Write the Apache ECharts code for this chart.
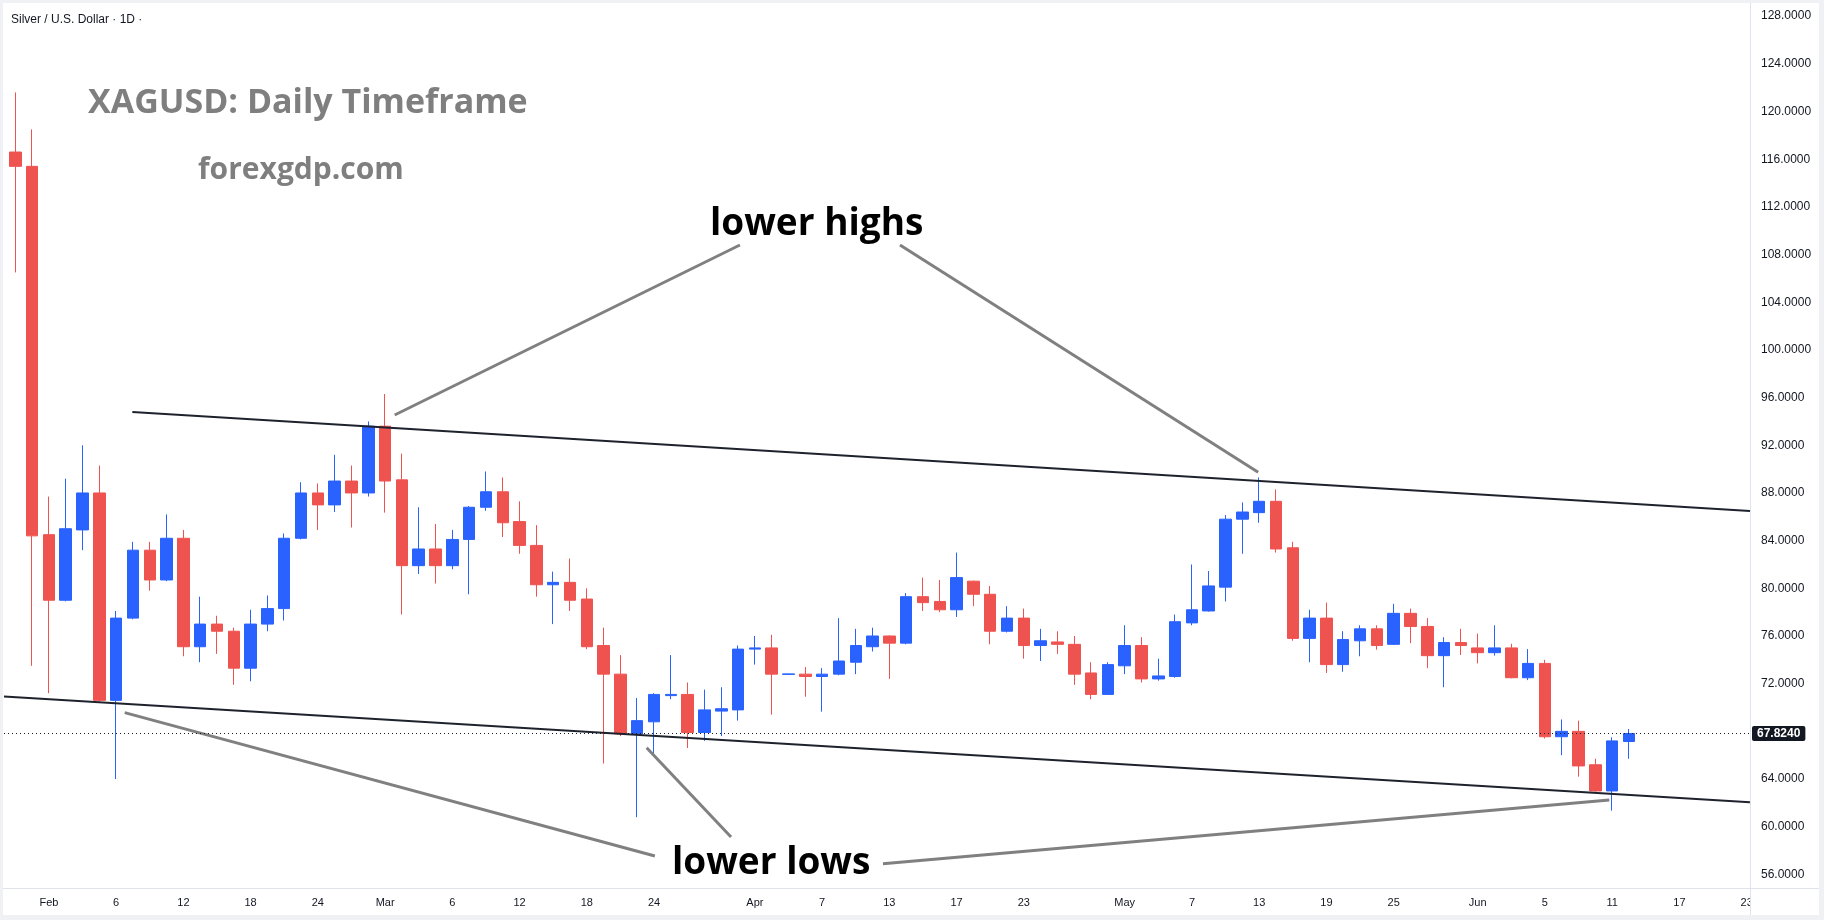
<!DOCTYPE html>
<html>
<head>
<meta charset="utf-8">
<script src="https://cdn.jsdelivr.net/npm/echarts@6/dist/echarts.min.js"></script>
<style>
html,body{margin:0;padding:0;background:#ffffff;}
#chart{width:1824px;height:920px;}
</style>
</head>
<body>
<div id="chart"></div>
<script>
// ---- categories (trading days) ----
const dates = [
 '2026-01-29','2026-01-30',
 '2026-02-02','2026-02-03','2026-02-04','2026-02-05','2026-02-06','2026-02-09','2026-02-10','2026-02-11','2026-02-12','2026-02-13',
 '2026-02-16','2026-02-17','2026-02-18','2026-02-19','2026-02-20','2026-02-23','2026-02-24','2026-02-25','2026-02-26','2026-02-27',
 '2026-03-02','2026-03-03','2026-03-04','2026-03-05','2026-03-06','2026-03-09','2026-03-10','2026-03-11','2026-03-12','2026-03-13',
 '2026-03-16','2026-03-17','2026-03-18','2026-03-19','2026-03-20','2026-03-23','2026-03-24','2026-03-25','2026-03-26','2026-03-27',
 '2026-03-30','2026-03-31',
 '2026-04-01','2026-04-02','2026-04-03','2026-04-06','2026-04-07','2026-04-08','2026-04-09','2026-04-10','2026-04-13','2026-04-14',
 '2026-04-15','2026-04-16','2026-04-17','2026-04-20','2026-04-21','2026-04-22','2026-04-23','2026-04-24','2026-04-27','2026-04-28',
 '2026-04-29','2026-04-30',
 '2026-05-01','2026-05-04','2026-05-05','2026-05-06','2026-05-07','2026-05-08','2026-05-11','2026-05-12','2026-05-13','2026-05-14',
 '2026-05-15','2026-05-18','2026-05-19','2026-05-20','2026-05-21','2026-05-22','2026-05-25','2026-05-26','2026-05-27','2026-05-28',
 '2026-05-29',
 '2026-06-01','2026-06-02','2026-06-03','2026-06-04','2026-06-05','2026-06-08','2026-06-09','2026-06-10','2026-06-11','2026-06-12'
];
const futureDates = ['2026-06-15','2026-06-16','2026-06-17','2026-06-18','2026-06-19','2026-06-22','2026-06-23'];

// ---- OHLC values ----
const open = [116.6,115.4,84.5,79.0,84.9,88.0,70.6,77.5,83.2,80.7,84.2,75.1,77.0,76.4,73.3,77.0,78.3,84.2,88.0,87.0,89.0,88.0,
 93.6,89.1,81.9,83.3,81.9,84.1,86.8,88.1,85.6,83.6,80.3,80.5,79.1,75.2,72.8,67.8,68.8,71.0,71.1,67.9,69.7,69.8,
 74.9,75.0,72.78,72.8,72.6,72.8,73.8,75.1,76.0,75.4,79.3,78.9,78.2,80.6,79.5,76.4,77.5,75.2,75.5,75.3,72.9,71.1,
 73.5,75.2,72.4,72.6,77.1,78.1,80.1,85.8,86.35,87.3,83.4,75.8,77.5,73.6,75.6,76.6,75.3,77.9,76.8,74.35,75.45,
 75.0,74.6,75.0,72.5,73.7,67.55,68.0,65.2,63.0,67.15];
const close = [115.4,84.4,79.0,85.0,88.0,70.6,77.5,83.2,80.7,84.2,75.1,77.0,76.4,73.3,77.0,78.3,84.2,88.0,87.0,89.0,88.0,93.6,
 89.0,81.9,83.3,81.9,84.1,86.8,88.1,85.5,83.6,80.3,80.5,79.0,75.1,72.8,67.8,68.9,71.1,71.1,67.9,69.8,69.9,74.9,
 75.0,72.8,72.82,72.6,72.8,73.9,75.2,76.0,75.4,79.3,78.8,78.2,80.9,79.5,76.4,77.5,75.2,75.6,75.3,72.8,71.1,73.6,
 75.2,72.4,72.65,77.2,78.2,80.2,85.8,86.4,87.3,83.3,75.8,77.5,73.6,75.7,76.6,75.2,77.9,76.8,74.35,75.45,75.2,
 74.6,75.0,72.5,73.7,67.55,68.0,65.1,63.0,67.2,67.824];
const low = [106.5,73.5,71.2,78.9,83.2,70.4,64.0,77.4,79.8,80.6,74.3,73.8,74.5,71.9,72.2,76.4,77.3,84.1,84.9,86.4,85.1,87.7,
 86.35,77.8,81.2,80.4,81.6,79.5,86.5,84.3,82.9,79.3,77.0,78.1,74.9,65.3,67.6,60.8,66.0,70.7,66.6,67.2,67.6,68.9,
 73.6,69.4,72.75,70.9,69.65,72.7,72.8,74.7,72.4,75.3,78.1,78.0,77.6,78.5,75.3,76.3,74.1,73.9,74.5,71.9,70.7,71.05,
 72.8,72.1,72.25,72.5,76.9,78.05,78.9,82.9,85.5,83.0,75.6,73.8,72.9,73.0,74.3,74.85,75.25,75.4,73.3,71.7,74.4,
 73.7,74.35,72.45,72.3,67.4,66.0,64.2,62.95,61.35,65.7];
const high = [121.6,118.5,87.7,89.2,92.0,90.3,78.1,83.9,83.9,86.2,84.9,79.3,77.7,76.7,78.2,79.4,84.6,88.9,88.8,91.2,90.3,94.0,
 96.3,91.3,86.8,85.4,84.9,86.9,89.8,89.3,87.3,85.3,81.4,82.5,80.0,76.7,74.4,70.8,71.2,74.4,72.1,71.5,71.7,75.2,
 76.0,76.1,72.85,73.4,73.3,77.5,76.6,76.7,76.05,79.6,80.9,80.7,83.0,80.65,80.2,78.5,78.3,76.6,76.4,76.0,73.8,73.8,
 76.9,75.9,74.1,77.8,82.0,81.45,86.15,87.2,89.3,88.3,83.9,78.2,78.8,76.4,76.9,76.9,78.7,78.3,77.5,75.9,76.6,
 76.2,76.9,75.35,74.9,74.0,69.0,68.9,65.7,67.5,68.2];
const lastPrice = 67.824;

// ---- tick labels (68 is hidden behind the last-price tag in the reference) ----
const yTicks = [56,60,64,72,76,80,84,88,92,96,100,104,108,112,116,120,124,128];
const xTickDates = ['2026-02-02','2026-02-06','2026-02-12','2026-02-18','2026-02-24','2026-03-02','2026-03-06','2026-03-12',
 '2026-03-18','2026-03-24','2026-04-01','2026-04-07','2026-04-13','2026-04-17','2026-04-23','2026-05-01','2026-05-07',
 '2026-05-13','2026-05-19','2026-05-25','2026-06-01','2026-06-05','2026-06-11','2026-06-17','2026-06-23'];
const xTickLabels = ['Feb','6','12','18','24','Mar','6','12','18','24','Apr','7','13','17','23','May','7','13','19','25','Jun','5','11','17','23'];

// ---- annotation lines, in (bar index, price) units ----
const upperTrend = [[6.96, 94.79], [103.2, 86.49]];
const lowerTrend = [[-0.672, 70.92], [103.2, 62.05]];
const highPointers = [[[43.11, 108.80], [22.57, 94.54]], [[52.63, 108.80], [73.94, 89.73]]];
const lowPointers = [[[6.51, 69.57], [38.05, 57.54]], [[37.56, 66.63], [42.58, 59.14]], [[51.62, 56.90], [94.83, 62.24]]];

const allDates = dates.concat(futureDates);
const ohlc = dates.map((d, i) => [i, open[i], close[i], low[i], high[i]]);
const xTickIdx = xTickDates.map(d => allDates.indexOf(d));

const UP = '#2962ff', DOWN = '#ef5350';
const chart = echarts.init(document.getElementById('chart'), null, {renderer: 'canvas'});

const series = [{
  type: 'candlestick',
  z: 3,
  barWidth: 12,
  dimensions: ['idx', 'open', 'close', 'lowest', 'highest'],
  encode: {x: 'idx', y: ['open', 'close', 'lowest', 'highest']},
  data: ohlc,
  itemStyle: {color: UP, color0: DOWN, borderColor: UP, borderColor0: DOWN, borderWidth: 1},
  markLine: {
    silent: true,
    symbol: 'none',
    z: 8,
    lineStyle: {color: '#131722', width: 1, type: [1, 3]},
    label: {
      show: true, position: 'end', distance: 2,
      formatter: () => lastPrice.toFixed(4),
      backgroundColor: '#131722', color: '#ffffff', fontWeight: 'bold',
      fontFamily: 'Liberation Sans', fontSize: 12, padding: [2, 5, 1, 5], borderRadius: 2
    },
    data: [{yAxis: lastPrice}]
  }
}];
function addLine(pts, color, width) {
  series.push({type: 'line', z: 4, data: pts, symbol: 'none', silent: true,
    lineStyle: {color: color, width: width}});
}
addLine(upperTrend, '#1e222d', 2);
addLine(lowerTrend, '#1e222d', 2);
highPointers.forEach(p => addLine(p, '#808080', 3));
lowPointers.forEach(p => addLine(p, '#808080', 3));

const FRAME = '#eff1f5', SEP = '#e0e3eb';
chart.setOption({
  animation: false,
  backgroundColor: '#ffffff',
  grid: {left: 4, right: 74, top: 5, bottom: 32, containLabel: false},
  xAxis: {
    type: 'value', z: 0,
    min: -0.672, max: 103.2,
    axisLine: {show: false}, axisTick: {show: false}, splitLine: {show: false},
    axisLabel: {
      customValues: xTickIdx,
      formatter: v => { const k = xTickIdx.indexOf(Math.round(v)); return k >= 0 ? xTickLabels[k] : ''; },
      color: '#131722', fontFamily: 'Liberation Sans', fontSize: 11, margin: 9
    }
  },
  yAxis: {
    type: 'value', position: 'right', z: 6,
    min: 54.859, max: 128.936,
    axisLine: {show: false}, axisTick: {show: false}, splitLine: {show: false},
    axisLabel: {
      customValues: yTicks,
      formatter: v => v.toFixed(4),
      color: '#131722', fontFamily: 'Liberation Sans', fontSize: 12, margin: 11
    }
  },
  graphic: [
    {type: 'rect', z: 1, shape: {x: 1751, y: 0, width: 73, height: 920}, style: {fill: '#ffffff'}},
    {type: 'line', z: 5, shape: {x1: 1750.5, y1: 0, x2: 1750.5, y2: 915}, style: {stroke: SEP, lineWidth: 1}},
    {type: 'line', z: 5, shape: {x1: 0, y1: 888.5, x2: 1824, y2: 888.5}, style: {stroke: SEP, lineWidth: 1}},
    {type: 'rect', z: 10, shape: {x: 0, y: 0, width: 1824, height: 3}, style: {fill: FRAME}},
    {type: 'rect', z: 10, shape: {x: 0, y: 0, width: 3, height: 920}, style: {fill: FRAME}},
    {type: 'rect', z: 10, shape: {x: 1819, y: 0, width: 5, height: 920}, style: {fill: FRAME}},
    {type: 'rect', z: 10, shape: {x: 0, y: 915, width: 1824, height: 5}, style: {fill: FRAME}},
    {type: 'text', z: 10, style: {text: 'Silver / U.S. Dollar \u00b7 1D \u00b7', x: 11, y: 19.5,
      font: '12px "Liberation Sans"', fill: '#131722', align: 'left', verticalAlign: 'middle'}},
    {type: 'text', z: 10, style: {text: 'XAGUSD: Daily Timeframe', x: 88, y: 103,
      font: 'bold 34px "Open Sans"', fill: '#7f7f7f', align: 'left', verticalAlign: 'middle'}},
    {type: 'text', z: 10, style: {text: 'forexgdp.com', x: 198, y: 170,
      font: 'bold 30px "Open Sans"', fill: '#7f7f7f', align: 'left', verticalAlign: 'middle'}},
    {type: 'text', z: 10, style: {text: 'lower highs', x: 710, y: 224,
      font: 'bold 37px "Open Sans"', fill: '#000000', align: 'left', verticalAlign: 'middle'}},
    {type: 'text', z: 10, style: {text: 'lower lows', x: 672, y: 863.5,
      font: 'bold 37px "Open Sans"', fill: '#000000', align: 'left', verticalAlign: 'middle'}}
  ],
  series: series
});
</script>
</body>
</html>
